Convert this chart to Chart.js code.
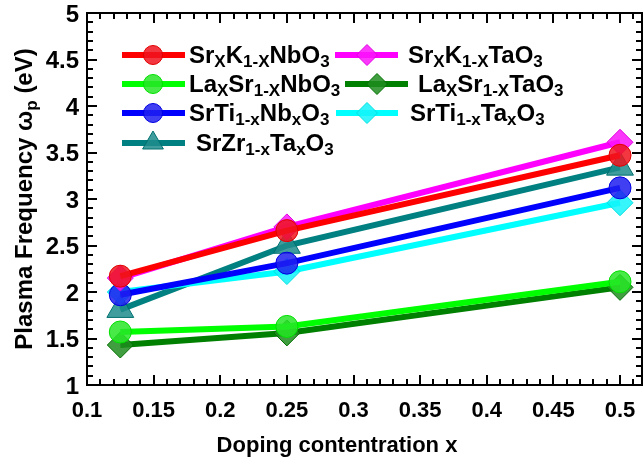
<!DOCTYPE html>
<html>
<head>
<meta charset="utf-8">
<script src="https://cdn.jsdelivr.net/npm/chart.js@4.4.1/dist/chart.umd.min.js"></script>
<style>
  html, body { margin: 0; padding: 0; background: #fff; }
  #wrap { width: 644px; height: 468px; }
</style>
</head>
<body>
<div id="wrap"><canvas id="c" width="644" height="468"></canvas></div>
<script>
// Doping concentration (x axis)
const dopingX = [0.125, 0.25, 0.5];

// Plasma frequency (eV) for each compound
const srKNbO3   = [2.17, 2.66, 3.47];
const srKTaO3   = [2.15, 2.70, 3.61];
const laSrNbO3  = [1.57, 1.63, 2.11];
const laSrTaO3  = [1.43, 1.56, 2.05];
const srTiNbO3  = [1.97, 2.31, 3.12];
const srTiTaO3  = [2.00, 2.22, 2.96];
const srZrTaO3  = [1.81, 2.50, 3.34];

// Legend labels as [text, isSubscript] runs
const lblSrKNbO3  = [['Sr',0],['X',1],['K',0],['1-X',1],['NbO',0],['3',1]];
const lblSrKTaO3  = [['Sr',0],['X',1],['K',0],['1-X',1],['TaO',0],['3',1]];
const lblLaSrNbO3 = [['La',0],['X',1],['Sr',0],['1-X',1],['NbO',0],['3',1]];
const lblLaSrTaO3 = [['La',0],['X',1],['Sr',0],['1-X',1],['TaO',0],['3',1]];
const lblSrTiNbO3 = [['SrTi',0],['1-x',1],['Nb',0],['x',1],['O',0],['3',1]];
const lblSrTiTaO3 = [['SrTi',0],['1-x',1],['Ta',0],['x',1],['O',0],['3',1]];
const lblSrZrTaO3 = [['SrZr',0],['1-x',1],['Ta',0],['x',1],['O',0],['3',1]];

// Axis text
const xTitle = [['Doping contentration x',0]];
const yTitle = [['Plasma Frequency ω',0],['p',1],[' (eV)',0]];

const FONT = '"Liberation Sans", Arial, Helvetica, sans-serif';

function pairs(ys) { return dopingX.map((x, i) => ({ x: x, y: ys[i] })); }

function series(label, ys, color, fill, edge, style, radius) {
  return {
    label: label, data: pairs(ys),
    borderColor: color, borderWidth: 6,
    backgroundColor: fill,
    pointStyle: style, pointRadius: radius, pointHoverRadius: radius,
    pointBackgroundColor: fill, pointBorderColor: edge, pointBorderWidth: 1,
    tension: 0, fill: false
  };
}

const datasets = [
  series(lblSrKNbO3,  srKNbO3,  '#ff0000', 'rgba(240,20,30,0.85)',  '#e00000', 'circle',  11),
  series(lblSrKTaO3,  srKTaO3,  '#ff00ff', 'rgba(250,20,250,0.85)', '#e000e0', 'rectRot', 13),
  series(lblLaSrNbO3, laSrNbO3, '#00ff00', 'rgba(40,230,40,0.85)',  '#00e000', 'circle',  11),
  series(lblLaSrTaO3, laSrTaO3, '#008000', 'rgba(30,140,30,0.85)',  '#007000', 'rectRot', 13),
  series(lblSrTiNbO3, srTiNbO3, '#0000ff', 'rgba(30,30,240,0.85)',  '#0000e0', 'circle',  11),
  series(lblSrTiTaO3, srTiTaO3, '#00ffff', 'rgba(20,245,250,0.85)', '#00e0e0', 'rectRot', 13),
  series(lblSrZrTaO3, srZrTaO3, '#008080', 'rgba(30,140,140,0.85)', '#007070', 'triangle', 15.5)
];

// Legend placement: [datasetIndex, lineStart, lineEnd, markerX, textX, rowY, markerRadius]
const legendLayout = [
  [0, 122, 185, 153, 189, 55, 9.5],
  [2, 122, 185, 153, 189, 84, 9.5],
  [4, 122, 185, 153, 189, 113, 9.5],
  [6, 122, 185, 153, 196, 143, 12],
  [1, 335, 398, 367, 408, 55, 10.5],
  [3, 345, 408, 377, 418, 84, 10.5],
  [5, 336, 398, 367, 410, 113, 10.5]
];

function runWidth(ctx, runs, main, sub) {
  let w = 0;
  runs.forEach(([t, s]) => {
    ctx.font = 'bold ' + (s ? sub : main) + 'px ' + FONT;
    w += ctx.measureText(t).width;
  });
  return w;
}

function drawRuns(ctx, runs, x, baseline, main, sub, subDrop) {
  ctx.textAlign = 'left';
  ctx.textBaseline = 'alphabetic';
  runs.forEach(([t, s]) => {
    ctx.font = 'bold ' + (s ? sub : main) + 'px ' + FONT;
    ctx.fillText(t, x, baseline + (s ? subDrop : 0));
    x += ctx.measureText(t).width;
  });
}

function drawMarker(ctx, style, x, y, r, fill, edge) {
  ctx.beginPath();
  if (style === 'circle') {
    ctx.arc(x, y, r, 0, Math.PI * 2);
  } else if (style === 'rectRot') {
    ctx.moveTo(x, y - r); ctx.lineTo(x + r, y); ctx.lineTo(x, y + r); ctx.lineTo(x - r, y);
    ctx.closePath();
  } else {
    for (let k = 0; k < 3; k++) {
      const a = k * 2 * Math.PI / 3;
      const px = x + Math.sin(a) * r, py = y - Math.cos(a) * r;
      if (k === 0) ctx.moveTo(px, py); else ctx.lineTo(px, py);
    }
    ctx.closePath();
  }
  ctx.fillStyle = fill; ctx.fill();
  ctx.lineWidth = 1; ctx.strokeStyle = edge; ctx.stroke();
}

function fmt(v) { return String(Number(v.toFixed(2))); }

// Boxed frame with inward major/minor ticks, tick labels, titles and legend
const frameTicks = {
  id: 'frameTicks',
  afterDatasetsDraw(chart) {
    const { ctx, chartArea: a, scales: { x, y } } = chart;
    ctx.save();
    ctx.strokeStyle = '#000';
    ctx.lineWidth = 2;
    ctx.beginPath();
    for (let i = 0; i <= 41; i++) {
      const v = 0.1 + i * 0.01;
      const len = (i % 5 === 0) ? 10 : 6;
      const px = Math.round(x.getPixelForValue(v));
      ctx.moveTo(px, a.bottom); ctx.lineTo(px, a.bottom - len);
      ctx.moveTo(px, a.top); ctx.lineTo(px, a.top + len);
    }
    for (let i = 0; i <= 40; i++) {
      const v = 1 + i * 0.1;
      const len = (i % 5 === 0) ? 10 : 6;
      const py = Math.round(y.getPixelForValue(v));
      ctx.moveTo(a.left, py); ctx.lineTo(a.left + len, py);
      ctx.moveTo(a.right, py); ctx.lineTo(a.right - len, py);
    }
    ctx.stroke();
    ctx.strokeRect(a.left, a.top, a.right - a.left, a.bottom - a.top);

    // tick labels from the scales' own ticks
    ctx.fillStyle = '#000';
    ctx.textBaseline = 'alphabetic';
    ctx.font = 'bold 22px ' + FONT;
    ctx.textAlign = 'center';
    x.ticks.forEach(t => {
      ctx.fillText(fmt(t.value), x.getPixelForValue(t.value), a.bottom + 32);
    });
    ctx.font = 'bold 24px ' + FONT;
    ctx.textAlign = 'right';
    y.ticks.forEach(t => {
      ctx.fillText(fmt(t.value), a.left - 8, y.getPixelForValue(t.value) + 8.5);
    });
    ctx.restore();
  },
  afterDraw(chart) {
    const { ctx, chartArea: a } = chart;
    ctx.save();
    ctx.fillStyle = '#000';
    // x title
    const wx = runWidth(ctx, xTitle, 22, 16);
    drawRuns(ctx, xTitle, 337 - wx / 2, 452, 22, 16, 4);
    // y title, rotated
    const wy = runWidth(ctx, yTitle, 24, 17);
    ctx.translate(32, (a.top + a.bottom) / 2);
    ctx.rotate(-Math.PI / 2);
    drawRuns(ctx, yTitle, -wy / 2, 0, 24, 17, 5);
    ctx.restore();

    // legend
    ctx.save();
    legendLayout.forEach(([di, x0, x1, mx, tx, ry, mr]) => {
      const ds = chart.data.datasets[di];
      ctx.strokeStyle = ds.borderColor;
      ctx.lineWidth = 6;
      ctx.beginPath(); ctx.moveTo(x0, ry); ctx.lineTo(x1, ry); ctx.stroke();
      drawMarker(ctx, ds.pointStyle, mx, ry, mr, ds.pointBackgroundColor, ds.pointBorderColor);
      ctx.fillStyle = '#000';
      drawRuns(ctx, ds.label, tx, ry + 8, 24, 17, 4);
    });
    ctx.restore();
  }
};

new Chart(document.getElementById('c'), {
  type: 'line',
  data: { datasets: datasets },
  plugins: [frameTicks],
  options: {
    responsive: false,
    animation: false,
    devicePixelRatio: 1,
    layout: { autoPadding: false, padding: { top: 13, right: 2, left: 0, bottom: 0 } },
    plugins: { legend: { display: false }, tooltip: { enabled: false } },
    scales: {
      x: {
        type: 'linear', min: 0.1, max: 0.5165, bounds: 'data',
        grid: { display: false, drawTicks: false },
        border: { display: false },
        ticks: { display: false, stepSize: 0.05, includeBounds: false, autoSkip: false },
        afterFit: s => { s.height = 83; }
      },
      y: {
        type: 'linear', min: 1, max: 5, bounds: 'data',
        grid: { display: false, drawTicks: false },
        border: { display: false },
        ticks: { display: false, stepSize: 0.5, includeBounds: false, autoSkip: false },
        afterFit: s => { s.width = 87; }
      }
    }
  }
});
</script>
</body>
</html>
